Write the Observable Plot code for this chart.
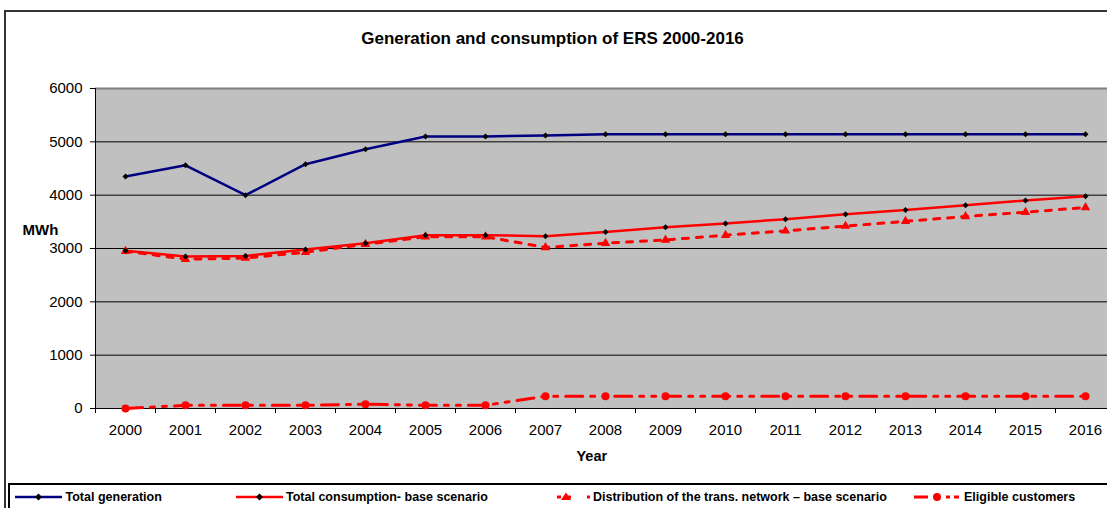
<!DOCTYPE html>
<html>
<head>
<meta charset="utf-8">
<script src="https://cdn.jsdelivr.net/npm/d3@7"></script>
<script src="https://cdn.jsdelivr.net/npm/@observablehq/plot@0.6"></script>
<style>
  html, body { margin: 0; padding: 0; background: #fff; overflow: hidden; }
  #page { position: relative; width: 1107px; height: 508px; overflow: hidden; font-family: Arial, "Liberation Sans", sans-serif; }
  .abs { position: absolute; white-space: nowrap; }
  #frame { position: absolute; left: 4px; top: 10px; width: 1200px; height: 600px; border-left: 2px solid #333; border-top: 2px solid #333; box-sizing: border-box; }
  #legendbox { position: absolute; left: 8px; top: 483px; width: 1200px; height: 60px; border-left: 2px solid #000; border-top: 2px solid #000; box-sizing: border-box; }
  .lt { font-size: 12.5px; font-weight: bold; line-height: 12.5px; color: #000; }
</style>
</head>
<body>
<div id="page">
  <div id="frame"></div>
  <div id="chart" class="abs" style="left:0;top:0;"></div>
  <div class="abs" style="left:0;top:30px;width:1105px;text-align:center;font-size:17px;font-weight:bold;line-height:17px;">Generation and consumption of ERS 2000-2016</div>
  <div class="abs" style="left:22.5px;top:222px;font-size:15px;font-weight:bold;line-height:15px;">MWh</div>
  <div class="abs" style="left:576.5px;top:449px;font-size:14.5px;font-weight:bold;line-height:14.5px;">Year</div>
  <div id="legendbox"></div>
  <svg class="abs" style="left:0;top:488px;" width="1107" height="20">
    <line x1="15" x2="62" y1="9" y2="9" stroke="#000080" stroke-width="2.5"/>
    <path d="M38.5,5.5L42,9L38.5,12.5L35,9Z" fill="#000"/>
    <line x1="236" x2="283" y1="9" y2="9" stroke="#ff0000" stroke-width="2.5"/>
    <path d="M259.5,5.5L263,9L259.5,12.5L256,9Z" fill="#000"/>
    <line x1="557" x2="590" y1="9" y2="9" stroke="#ff0000" stroke-width="3" stroke-dasharray="4,6,4,16,3,4"/>
    <path d="M566,4.5L571,12L561,12Z" fill="#ff0000"/>
    <line x1="914" x2="959" y1="9" y2="9" stroke="#ff0000" stroke-width="3" stroke-dasharray="14,4,0,14,4,4"/>
    <circle cx="937" cy="9" r="4" fill="#ff0000"/>
  </svg>
  <div class="abs lt" style="left:65.5px;top:491px;">Total generation</div>
  <div class="abs lt" style="left:286px;top:491px;">Total consumption- base scenario</div>
  <div class="abs lt" style="left:593px;top:491px;">Distribution of the trans. network – base scenario</div>
  <div class="abs lt" style="left:964px;top:491px;">Eligible customers</div>
</div>
<script>
const years = [2000, 2001, 2002, 2003, 2004, 2005, 2006, 2007, 2008, 2009, 2010, 2011, 2012, 2013, 2014, 2015, 2016];
const totalGeneration = [4350, 4560, 4000, 4580, 4860, 5100, 5100, 5120, 5140, 5140, 5140, 5140, 5140, 5140, 5140, 5140, 5140];
const totalConsumption = [2960, 2850, 2860, 2980, 3100, 3250, 3250, 3230, 3310, 3400, 3470, 3550, 3640, 3720, 3810, 3900, 3980];
const distribution = [2950, 2800, 2820, 2930, 3080, 3220, 3220, 3020, 3100, 3160, 3250, 3330, 3420, 3510, 3600, 3680, 3770];
const eligibleCustomers = [0, 60, 60, 60, 80, 60, 60, 230, 230, 230, 230, 230, 230, 230, 230, 230, 230];
const yTicks = [0, 1000, 2000, 3000, 4000, 5000, 6000];

const rows = (vals) => years.map((year, i) => ({year, value: vals[i]}));
const gen = rows(totalGeneration);
const cons = rows(totalConsumption);
const dist = rows(distribution);
const elig = rows(eligibleCustomers);
const boundaries = years.map(y => y - 0.5).concat([years[years.length - 1] + 0.5]);

const chart = Plot.plot({
  width: 1120,
  height: 470,
  marginLeft: 95,
  marginRight: 5,
  marginTop: 88,
  marginBottom: 62,
  style: {fontFamily: "Arial, 'Liberation Sans', sans-serif", fontSize: "15px", overflow: "visible", maxWidth: "none", background: "transparent", color: "#000"},
  x: {domain: [boundaries[0], boundaries[boundaries.length - 1]], axis: null},
  y: {domain: [0, 6000], axis: null},
  marks: [
    Plot.frame({fill: "#c0c0c0", stroke: "none"}),
    Plot.ruleY(yTicks.filter(d => d > 0 && d < 6000), {stroke: "#000", strokeWidth: 1}),
    Plot.ruleY([6000], {stroke: "#808080", strokeWidth: 2}),
    Plot.ruleY([0], {stroke: "#000", strokeWidth: 1}),
    Plot.ruleX([boundaries[0]], {stroke: "#000", strokeWidth: 1}),
    Plot.axisY({ticks: yTicks, tickSize: 5, tickPadding: 8, fontSize: 15, label: null, tickFormat: d => String(d)}),
    Plot.axisX({ticks: boundaries, tickSize: 5, tickFormat: () => "", label: null}),
    Plot.axisX({ticks: years, tickSize: 0, tickPadding: 16, fontSize: 15, label: null, tickFormat: d => String(d)}),
    Plot.line(gen, {x: "year", y: "value", stroke: "#000080", strokeWidth: 2.5}),
    Plot.line(dist, {x: "year", y: "value", stroke: "#ff0000", strokeWidth: 3, strokeDasharray: "6,8"}),
    Plot.line(cons, {x: "year", y: "value", stroke: "#ff0000", strokeWidth: 2.5}),
    Plot.line(elig, {x: "year", y: "value", stroke: "#ff0000", strokeWidth: 3, strokeDasharray: "17,8,4,8,4,8"}),
    Plot.dot(dist, {x: "year", y: "value", symbol: "triangle", fill: "#ff0000", r: 3.5}),
    Plot.dot(elig, {x: "year", y: "value", symbol: "circle", fill: "#ff0000", r: 4}),
    Plot.dot(gen, {x: "year", y: "value", symbol: "diamond2", fill: "#000", r: 2.7}),
    Plot.dot(cons, {x: "year", y: "value", symbol: "diamond2", fill: "#000", r: 2.7})
  ]
});
document.getElementById("chart").appendChild(chart);
</script>
</body>
</html>
